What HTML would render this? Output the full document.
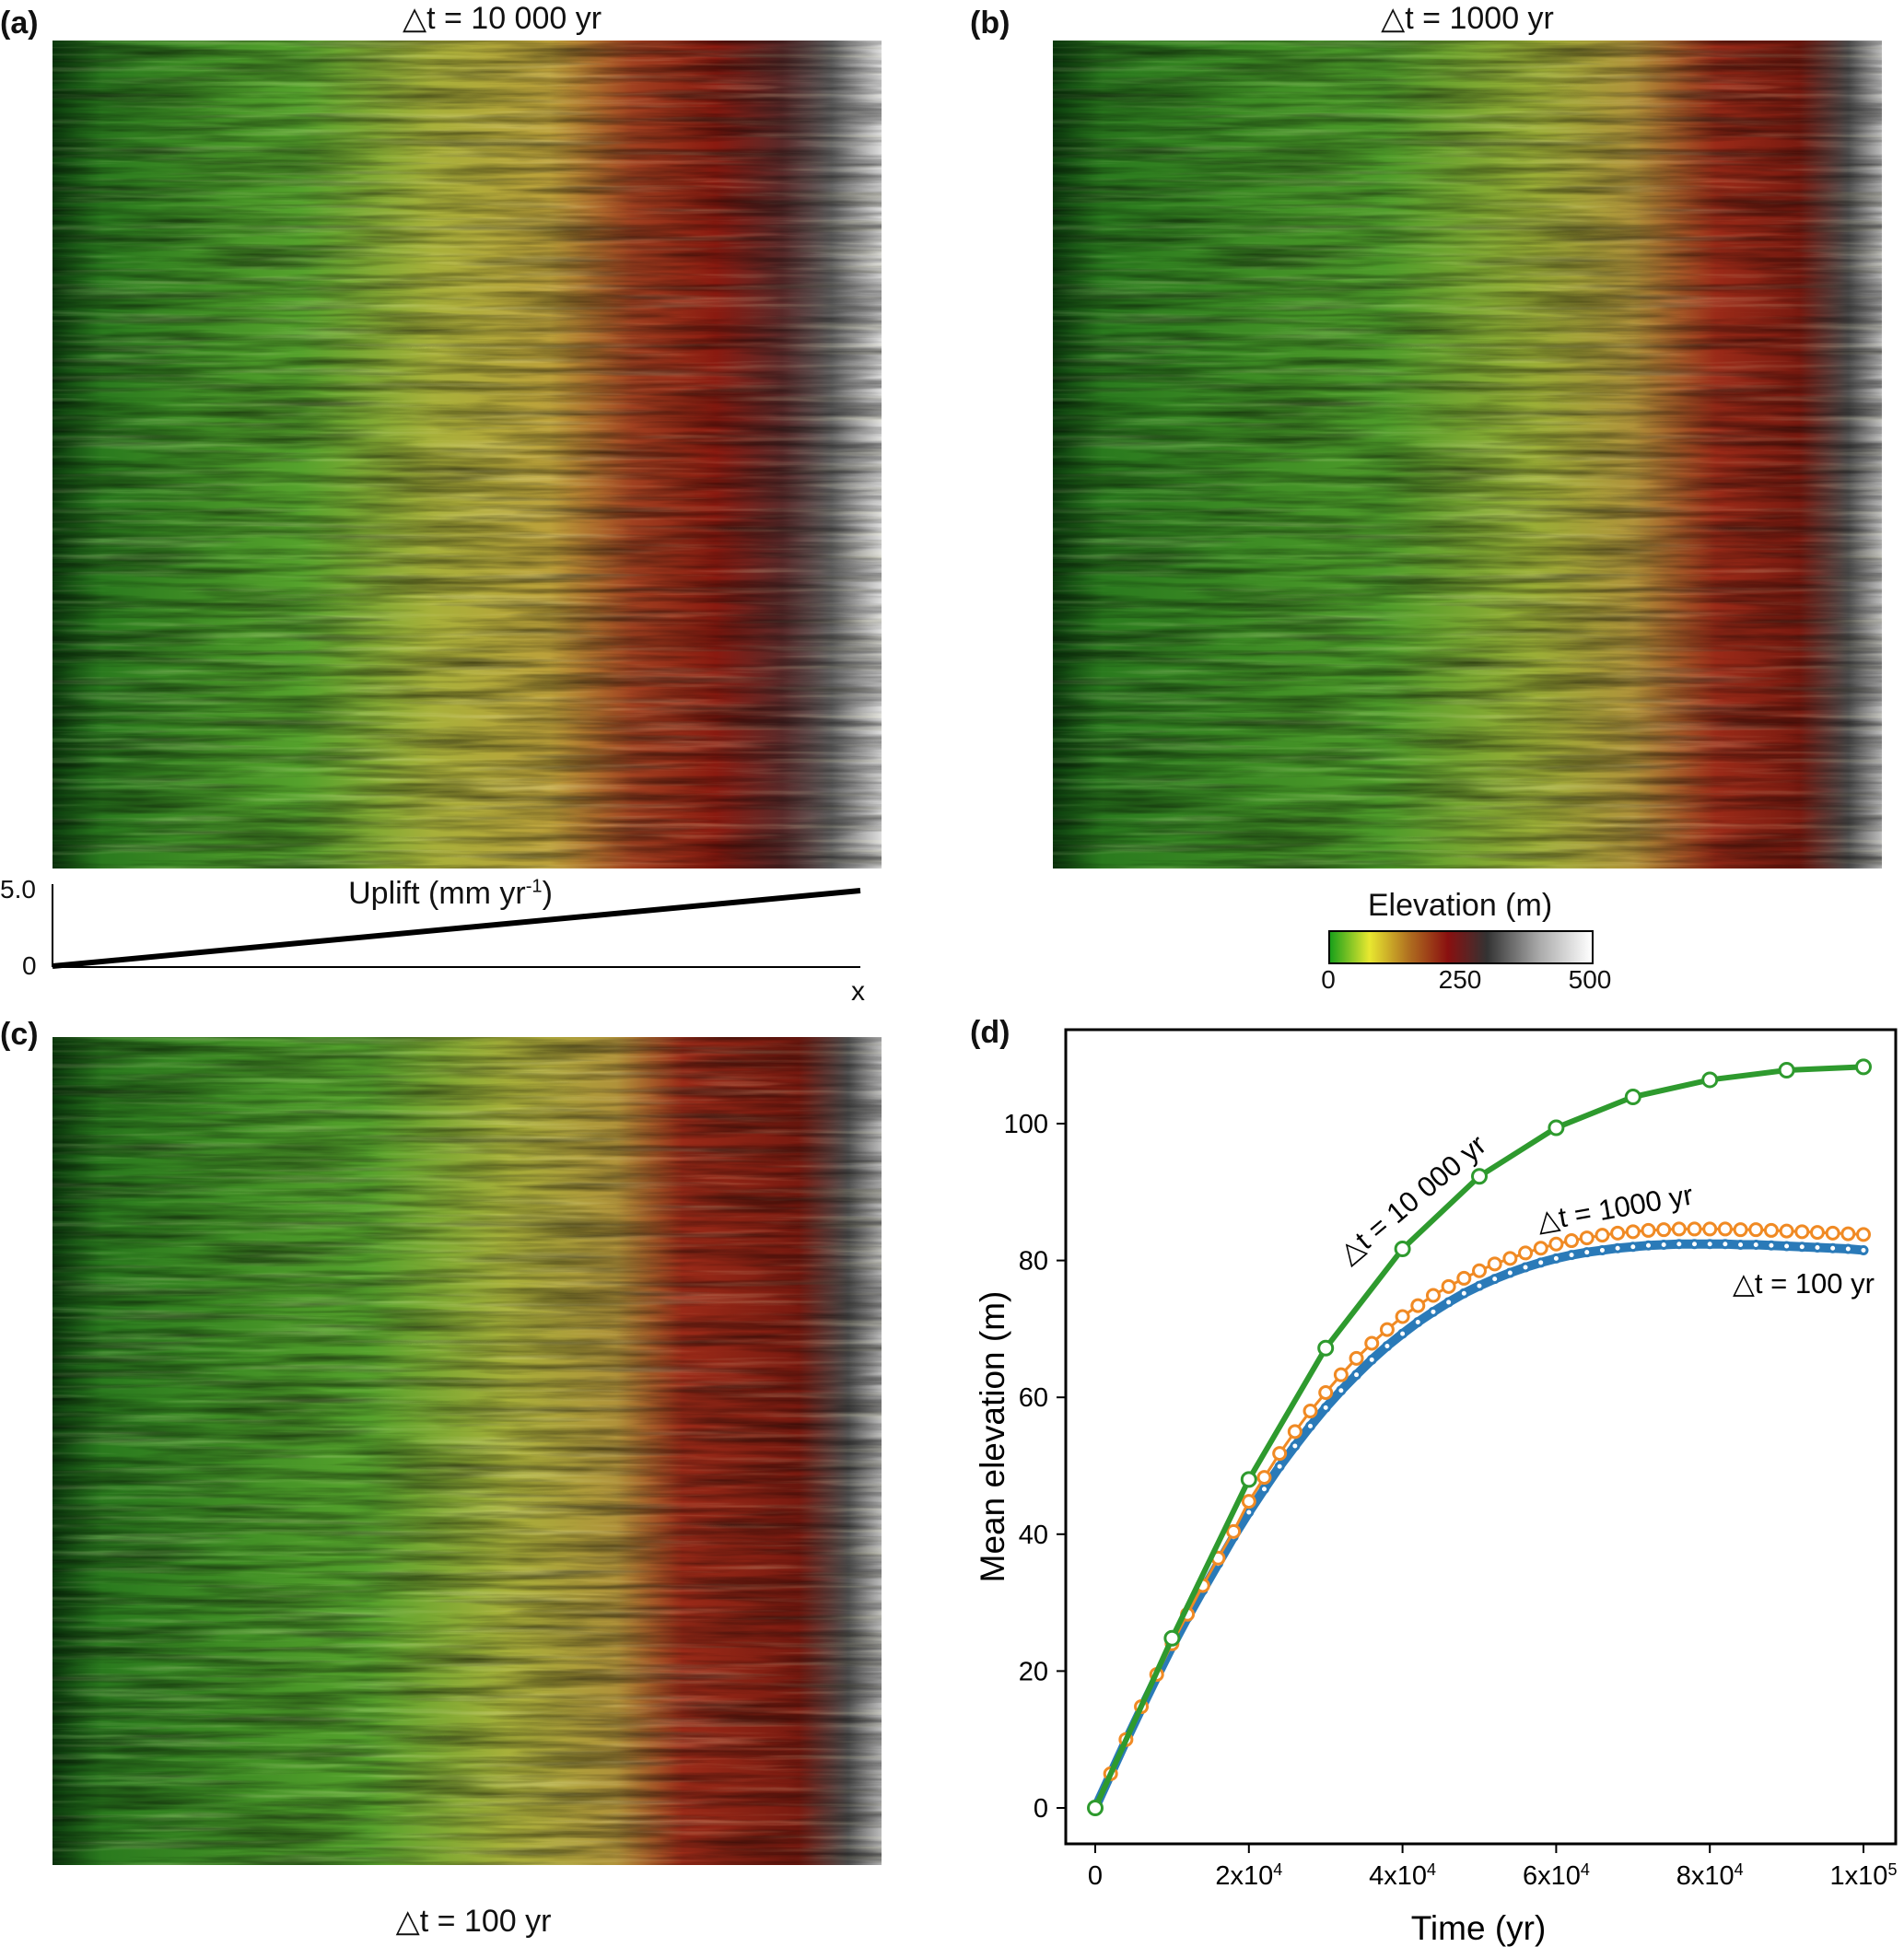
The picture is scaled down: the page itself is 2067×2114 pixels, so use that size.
<!DOCTYPE html>
<html><head><meta charset="utf-8"><style>
body{margin:0;background:#fff;width:2067px;height:2114px;overflow:hidden;position:relative;font-family:"Liberation Sans",sans-serif;color:#111}
.lbl{position:absolute;font-size:34px;white-space:nowrap}
.pl{position:absolute;font-weight:bold;font-size:34px}
.map{position:absolute;width:900px;height:899px}
</style></head><body>
<svg width="0" height="0" style="position:absolute">
<defs>
<filter id="streak" x="0" y="0" width="100%" height="100%">
<feTurbulence type="fractalNoise" baseFrequency="0.006 0.11" numOctaves="4" seed="3"/>
<feColorMatrix type="matrix" values="0 0 0 0 0  0 0 0 0 0  0 0 0 0 0  1.6 0 0 0 -0.55"/>
</filter>
<filter id="streak2" x="0" y="0" width="100%" height="100%">
<feTurbulence type="fractalNoise" baseFrequency="0.005 0.14" numOctaves="4" seed="8"/>
<feColorMatrix type="matrix" values="0 0 0 0 1  0 0 0 0 1  0 0 0 0 0.6  1.4 0 0 0 -0.7"/>
</filter>
<linearGradient id="gA" x1="0" x2="1"><stop offset="0" stop-color="#0c3d0e"/><stop offset="0.06" stop-color="#2a7a1e"/><stop offset="0.3" stop-color="#55a22c"/><stop offset="0.46" stop-color="#a8b03a"/><stop offset="0.6" stop-color="#bca03a"/><stop offset="0.7" stop-color="#a04020"/><stop offset="0.8" stop-color="#8a1a10"/><stop offset="0.88" stop-color="#5a2a2a"/><stop offset="0.94" stop-color="#666"/><stop offset="1" stop-color="#ddd"/></linearGradient>
<linearGradient id="gB" x1="0" x2="1"><stop offset="0" stop-color="#0c3d0e"/><stop offset="0.06" stop-color="#2a7a1e"/><stop offset="0.4" stop-color="#4e9c2a"/><stop offset="0.58" stop-color="#9aae36"/><stop offset="0.7" stop-color="#b0923a"/><stop offset="0.8" stop-color="#9a2a18"/><stop offset="0.9" stop-color="#7a1a10"/><stop offset="0.96" stop-color="#555"/><stop offset="1" stop-color="#bbb"/></linearGradient>
<linearGradient id="gC" x1="0" x2="1"><stop offset="0" stop-color="#0c3d0e"/><stop offset="0.06" stop-color="#2a7a1e"/><stop offset="0.38" stop-color="#55a22c"/><stop offset="0.55" stop-color="#a8b03a"/><stop offset="0.68" stop-color="#b0923a"/><stop offset="0.76" stop-color="#9a2a18"/><stop offset="0.9" stop-color="#7a1a10"/><stop offset="0.96" stop-color="#555"/><stop offset="1" stop-color="#bbb"/></linearGradient>
</defs></svg>

<div class="pl" style="left:0;top:6px">(a)</div>
<div class="lbl" style="left:545px;top:0;transform:translateX(-50%)">△t = 10 000 yr</div>
<svg class="map" style="left:57px;top:44px" viewBox="0 0 900 899">
<rect width="900" height="899" fill="url(#gA)"/>
<rect width="900" height="899" filter="url(#streak2)" opacity="0.45"/>
<rect width="900" height="899" filter="url(#streak)" opacity="0.6"/>
</svg>

<div class="pl" style="left:1053px;top:6px">(b)</div>
<div class="lbl" style="left:1593px;top:0;transform:translateX(-50%)">△t = 1000 yr</div>
<svg class="map" style="left:1143px;top:44px" viewBox="0 0 900 899">
<rect width="900" height="899" fill="url(#gB)"/>
<rect width="900" height="899" filter="url(#streak2)" opacity="0.4"/>
<rect width="900" height="899" filter="url(#streak)" opacity="0.6"/>
</svg>

<svg style="position:absolute;left:0;top:950px" width="1000" height="140">
<line x1="57" y1="10" x2="57" y2="100" stroke="#000" stroke-width="2"/>
<line x1="57" y1="100" x2="934" y2="100" stroke="#000" stroke-width="2"/>
<line x1="57" y1="99" x2="934" y2="17" stroke="#000" stroke-width="6"/>
</svg>
<div class="lbl" style="left:0;top:950px;font-size:28px">5.0</div>
<div class="lbl" style="left:24px;top:1033px;font-size:28px">0</div>
<div class="lbl" style="left:489px;top:951px;transform:translateX(-50%)">Uplift (mm yr<sup style="font-size:20px">-1</sup>)</div>
<div class="lbl" style="left:924px;top:1060px;font-size:30px">x</div>

<div class="lbl" style="left:1585px;top:964px;transform:translateX(-50%)">Elevation (m)</div>
<div style="position:absolute;left:1442px;top:1010px;width:284px;height:33px;border:2px solid #000;background:linear-gradient(90deg,#1aa01a,#e8e830 15%,#b07020 30%,#8a1010 45%,#333 60%,#aaa 80%,#fff)"></div>
<div class="lbl" style="left:1442px;top:1048px;font-size:28px;transform:translateX(-50%)">0</div>
<div class="lbl" style="left:1585px;top:1048px;font-size:28px;transform:translateX(-50%)">250</div>
<div class="lbl" style="left:1726px;top:1048px;font-size:28px;transform:translateX(-50%)">500</div>

<div class="pl" style="left:0;top:1104px">(c)</div>
<svg class="map" style="left:57px;top:1126px" viewBox="0 0 900 899">
<rect width="900" height="899" fill="url(#gC)"/>
<rect width="900" height="899" filter="url(#streak2)" opacity="0.45"/>
<rect width="900" height="899" filter="url(#streak)" opacity="0.6"/>
</svg>
<div class="lbl" style="left:514px;top:2066px;transform:translateX(-50%)">△t = 100 yr</div>

<div class="pl" style="left:1053px;top:1102px">(d)</div>
<svg id="chart" style="position:absolute;left:0;top:0" width="2067" height="2114"></svg>

<script>
const xTicks=[0,20000,40000,60000,80000,100000];
const xTickLabels=["0","2x10<tspan dy='-10' font-size='18'>4</tspan>","4x10<tspan dy='-10' font-size='18'>4</tspan>","6x10<tspan dy='-10' font-size='18'>4</tspan>","8x10<tspan dy='-10' font-size='18'>4</tspan>","1x10<tspan dy='-10' font-size='18'>5</tspan>"];
const yTicks=[0,20,40,60,80,100];
const tGreen=[0,10000,20000,30000,40000,50000,60000,70000,80000,90000,100000];
const vGreen=[0,24.8,48,67.2,81.7,92.3,99.4,103.9,106.4,107.8,108.3];
const vOrange=[0,5,10,14.8,19.5,24,28.3,32.5,36.5,40.4,44.8,48.3,51.8,55,58,60.7,63.3,65.7,67.9,69.9,71.8,73.4,74.9,76.2,77.4,78.5,79.5,80.3,81.1,81.8,82.4,82.9,83.3,83.7,84,84.2,84.4,84.5,84.6,84.6,84.6,84.6,84.5,84.5,84.4,84.3,84.2,84.1,84,83.9,83.8];
const vBlue=[0,4.9,9.8,14.5,19.1,23.6,27.8,31.8,35.7,39.6,43.2,46.6,49.9,52.9,55.8,58.5,61,63.3,65.5,67.5,69.3,71,72.5,73.9,75.2,76.3,77.3,78.2,79,79.7,80.3,80.8,81.2,81.5,81.8,82,82.2,82.3,82.4,82.4,82.4,82.4,82.3,82.3,82.2,82.1,82,81.9,81.8,81.7,81.5];
const step2=2000;

const X=t=>1189+(t/100000)*(2023-1189);
const Y=v=>1963-v*(1963-1220)/100;
const svg=document.getElementById('chart');
const NS='http://www.w3.org/2000/svg';
function mk(tag,a){const e=document.createElementNS(NS,tag);for(const k in a)e.setAttribute(k,a[k]);svg.appendChild(e);return e;}
let fr=mk('rect',{x:1157,y:1118,width:901,height:884,fill:'none',stroke:'#000','stroke-width':3});


xTicks.forEach((t,i)=>{
 let l=mk('line',{x1:X(t),x2:X(t),y1:2002,y2:2012,stroke:'#000','stroke-width':2});
 
 
 let tx=mk('text',{x:X(t),y:2046,'text-anchor':'middle','font-size':29,'font-family':'Liberation Sans, sans-serif'});
 tx.innerHTML=xTickLabels[i];
 
 
});
yTicks.forEach(v=>{
 let l=mk('line',{x1:1147,x2:1157,y1:Y(v),y2:Y(v),stroke:'#000','stroke-width':2});
 
 
 let tx=mk('text',{x:1138,y:Y(v)+10,'text-anchor':'end','font-size':29,'font-family':'Liberation Sans, sans-serif'});
 tx.textContent=v;
 
 
});
let xt=mk('text',{x:1605,y:2106,'text-anchor':'middle','font-size':37,'font-family':'Liberation Sans, sans-serif'});
xt.textContent='Time (yr)';


let yt=mk('text',{x:0,y:0,'text-anchor':'middle','font-size':37,'font-family':'Liberation Sans, sans-serif',transform:'translate(1090,1560) rotate(-90)'});
yt.textContent='Mean elevation (m)';



function series(times,vals,color,lw,r,sw,name){
 let p=mk('polyline',{points:times.map((t,i)=>X(t)+','+Y(vals[i])).join(' '),fill:'none',stroke:color,'stroke-width':lw});
 
 
 times.forEach((t,i)=>{
  let c=mk('circle',{cx:X(t),cy:Y(vals[i]),r:r,fill:'#fff',stroke:color,'stroke-width':sw});
  
  
 });
}
const tDense=vBlue.map((_,i)=>i*step2);
series(tDense,vBlue,'#2a7ab8',10,4,3,'dt100');
series(vOrange.map((_,i)=>i*step2),vOrange,'#f08a24',3,6.5,3,'dt1000');
series(tGreen,vGreen,'#2e9a2e',6,7.5,3,'dt10000');

function ann(txt,x,y,rot,name){
 let t=mk('text',{x:0,y:0,'text-anchor':'middle','font-size':31,'font-family':'Liberation Sans, sans-serif',transform:`translate(${x},${y}) rotate(${rot})`});
 t.textContent=txt;
 
 
}
ann('△t = 10 000 yr',1540,1310,-40,'annotation-dt10000');
ann('△t = 1000 yr',1755,1322,-10,'annotation-dt1000');
ann('△t = 100 yr',1958,1404,0,'annotation-dt100');
</script>
</body></html>
